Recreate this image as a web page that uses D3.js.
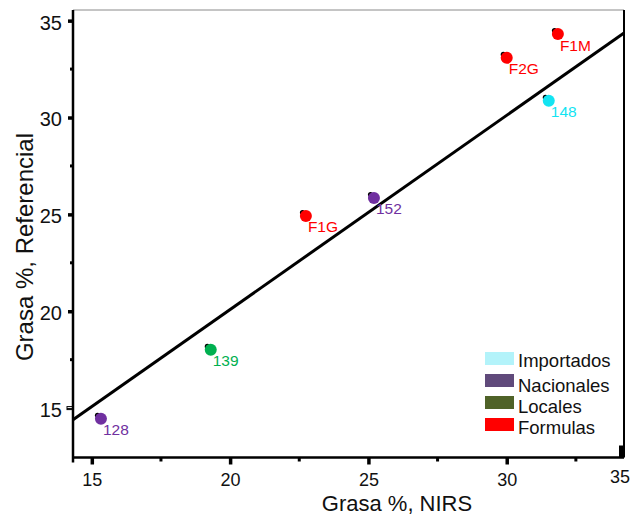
<!DOCTYPE html>
<html>
<head>
<meta charset="utf-8">
<script src="https://cdn.jsdelivr.net/npm/d3@7"></script>
<style>
  html, body { margin: 0; padding: 0; background: #ffffff; }
  svg { display: block; font-family: Arial, "Liberation Sans", Helvetica, sans-serif; }
</style>
</head>
<body>
<svg id="chart" width="642" height="524"></svg>
<script>
// Muestras: grasa medida por NIRS frente al método de referencia
const sampleIds   = ["128", "139", "F1G", "152", "F2G", "F1M", "148"];
const grasaNIRS   = [15.33, 19.30, 22.74, 25.20, 30.00, 31.85, 31.52];
const grasaRef    = [14.45, 18.01, 24.92, 25.85, 33.08, 34.31, 30.86];
const sampleGroup = ["Nacionales", "Locales", "Formulas", "Nacionales", "Formulas", "Formulas", "Importados"];

// Recta de ajuste: Referencial = pendiente * NIRS + intercepto
const fitSlope = 1.0025;
const fitIntercept = 0.04;

const groupNames  = ["Importados", "Nacionales", "Locales", "Formulas"];
const legendFill  = ["#b3f3fa", "#604a7b", "#4f6228", "#ff0000"];
const pointFill   = ["#12e4f2", "#7030a0", "#00b050", "#ff0000"];

const xTickValues = [15, 20, 25, 30];
const xMinorTicks = [17.5, 22.5, 27.5, 32.5];
const yTickValues = [15, 20, 25, 30, 35];
const yMinorTicks = [17.5, 22.5, 27.5, 32.5];
const xEndLabel   = "35";

const svg = d3.select("#chart");
const plotL = 73, plotR = 624, plotT = 10, plotB = 457.5;

const x = d3.scaleLinear().domain([14.32, 34.24]).range([plotL, plotR]);
const y = d3.scaleLinear().domain([12.45, 35.55]).range([plotB, plotT]);

const groupColor = d3.scaleOrdinal().domain(groupNames).range(pointFill);
const legendColor = d3.scaleOrdinal().domain(groupNames).range(legendFill);

// Marco del gráfico
svg.append("line").attr("x1", plotL).attr("x2", plotR).attr("y1", plotT).attr("y2", plotT)
  .attr("stroke", "#8a8a8a").attr("stroke-width", 1);
svg.append("line").attr("x1", plotR).attr("x2", plotR).attr("y1", plotT).attr("y2", plotB)
  .attr("stroke", "#000").attr("stroke-width", 2);
svg.append("rect").attr("x", plotR - 5).attr("y", plotB - 12).attr("width", 5).attr("height", 12)
  .attr("fill", "#000");

// Eje X
const xAxis = svg.append("g").attr("transform", `translate(0,${plotB})`)
  .call(d3.axisBottom(x).tickValues(xTickValues).tickSize(7).tickPadding(9).tickFormat(d3.format("d")));
xAxis.select(".domain").attr("stroke-width", 2.5).attr("d", `M${plotL},0H${plotR}`);
xAxis.selectAll(".tick line").attr("stroke-width", 3.5);
xAxis.selectAll(".tick text").attr("font-size", 18).attr("font-family", "Arial, 'Liberation Sans', sans-serif").attr("fill", "#111");
svg.append("g").selectAll("line").data(xMinorTicks).join("line")
  .attr("x1", d => x(d)).attr("x2", d => x(d))
  .attr("y1", plotB).attr("y2", plotB + 4)
  .attr("stroke", "#000").attr("stroke-width", 3);
svg.append("text").attr("x", plotR - 4).attr("y", 483).attr("text-anchor", "middle")
  .attr("font-size", 18).attr("fill", "#111").text(xEndLabel);

// Eje Y
const yAxis = svg.append("g").attr("transform", `translate(${plotL},0)`)
  .call(d3.axisLeft(y).tickValues(yTickValues).tickSize(5).tickPadding(6).tickFormat(d3.format("d")));
yAxis.select(".domain").attr("stroke-width", 2.5).attr("d", `M0,${plotT}V${plotB + 5}`);
yAxis.selectAll(".tick line").attr("stroke-width", 3.5)
  .filter(d => d === 15).attr("stroke-width", 1).attr("x2", -6);
yAxis.selectAll(".tick text").attr("font-size", 20).attr("fill", "#111")
  .attr("dy", "0.42em");
yAxis.selectAll(".tick").filter(d => d === 15).append("rect")
  .attr("x", -6).attr("y", -2).attr("width", 6).attr("height", 3)
  .attr("fill", "none").attr("stroke", "#000").attr("stroke-width", 1);
svg.append("g").selectAll("line").data(yMinorTicks).join("line")
  .attr("x1", plotL - 3).attr("x2", plotL)
  .attr("y1", d => y(d)).attr("y2", d => y(d))
  .attr("stroke", "#000").attr("stroke-width", 3);

// Títulos de los ejes
svg.append("text").attr("x", 397).attr("y", 511).attr("text-anchor", "middle")
  .attr("font-size", 22).attr("fill", "#111").text("Grasa %, NIRS");
svg.append("text").attr("transform", "translate(33,247) rotate(-90)").attr("text-anchor", "middle")
  .attr("font-size", 24).attr("fill", "#111").text("Grasa %, Referencial");

// Recta de ajuste
const fitX = x.domain();
svg.append("line")
  .attr("x1", x(fitX[0])).attr("y1", y(fitSlope * fitX[0] + fitIntercept))
  .attr("x2", x(fitX[1])).attr("y2", y(fitSlope * fitX[1] + fitIntercept))
  .attr("stroke", "#000").attr("stroke-width", 3);

// Puntos
const samples = sampleIds.map((id, i) => ({ id, nx: grasaNIRS[i], ref: grasaRef[i], g: sampleGroup[i] }));
const pts = svg.append("g").selectAll("g").data(samples).join("g")
  .attr("transform", d => `translate(${x(d.nx)},${y(d.ref)})`);
pts.append("circle").attr("cx", -3.4).attr("cy", -3.4).attr("r", 2.6).attr("fill", "#000");
pts.append("circle").attr("r", 6).attr("fill", d => groupColor(d.g));
pts.append("text").attr("x", 2).attr("y", 16.5).attr("font-size", 15.5)
  .attr("fill", d => groupColor(d.g)).text(d => d.id);

// Leyenda
const legendSwatchY = [352, 374, 396, 418];
const legendTextY = [367, 392, 413, 434];
const legend = svg.append("g");
legend.selectAll("rect").data(groupNames).join("rect")
  .attr("x", 485).attr("y", (d, i) => legendSwatchY[i]).attr("width", 29).attr("height", 13)
  .attr("fill", d => legendColor(d));
legend.selectAll("text").data(groupNames).join("text")
  .attr("x", 518).attr("y", (d, i) => legendTextY[i]).attr("font-size", 18.5).attr("fill", "#111")
  .text(d => d);
</script>
</body>
</html>
